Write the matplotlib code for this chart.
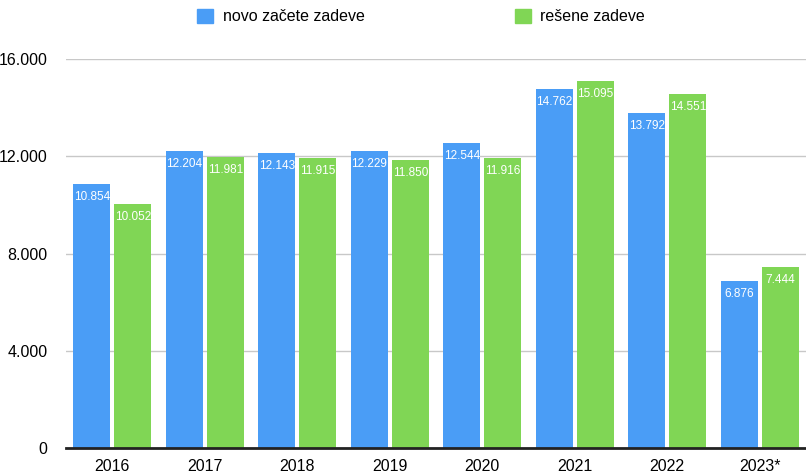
import numpy as np
import matplotlib.pyplot as plt
from matplotlib.patches import Patch

plt.rcParams['font.family'] = ['Liberation Sans', 'DejaVu Sans']

# podatki
leta = ["2016", "2017", "2018", "2019", "2020", "2021", "2022", "2023*"]
novo_zacete = [10854, 12204, 12143, 12229, 12544, 14762, 13792, 6876]
resene = [10052, 11981, 11915, 11850, 11916, 15095, 14551, 7444]
y_ticks = [0, 4000, 8000, 12000, 16000]

modra = "#4A9DF6"
zelena = "#80D655"


def fmt(v):
    return f"{v:,}".replace(",", ".")


fig = plt.figure(figsize=(8.06, 4.75), dpi=100)
ax = fig.add_axes([66 / 806, 1 - 448 / 475, 740 / 806, 389 / 475])

x = np.arange(len(leta))
w = 0.4
off = 0.222
b1 = ax.bar(x - off, novo_zacete, w, color=modra, zorder=3)
b2 = ax.bar(x + off, resene, w, color=zelena, zorder=3)

for bars, vals in ((b1, novo_zacete), (b2, resene)):
    for r, v in zip(bars, vals):
        ax.annotate(fmt(v), (r.get_x() + r.get_width() / 2, v),
                    xytext=(0, -5), textcoords="offset points",
                    ha="center", va="top", color="white", fontsize=8.5,
                    zorder=4)

ax.set_xlim(-0.5, len(leta) - 0.5)
ax.set_ylim(0, 16000)
ax.set_yticks(y_ticks)
ax.set_yticklabels([fmt(t) for t in y_ticks], fontsize=11.5)
ax.set_xticks(x)
ax.set_xticklabels(leta, fontsize=11.5)
ax.tick_params(length=0)
ax.tick_params(axis="y", pad=13.5)
ax.tick_params(axis="x", pad=8)
ax.yaxis.grid(True, color="#c8c8c8", linewidth=1, zorder=0)
ax.axhline(0, color="#222222", linewidth=2, zorder=5, clip_on=False)
for s in ax.spines.values():
    s.set_visible(False)

handles = [Patch(color=modra, label="novo začete zadeve"),
           Patch(color=zelena, label="rešene zadeve")]
fig.legend(handles=handles, loc="upper left", bbox_to_anchor=(183 / 806, 1.012),
           ncol=2, frameon=False, fontsize=11.5, handlelength=1.0,
           handleheight=1.0, handletextpad=0.6, columnspacing=9.4)

fig.savefig("out.png", dpi=100)
